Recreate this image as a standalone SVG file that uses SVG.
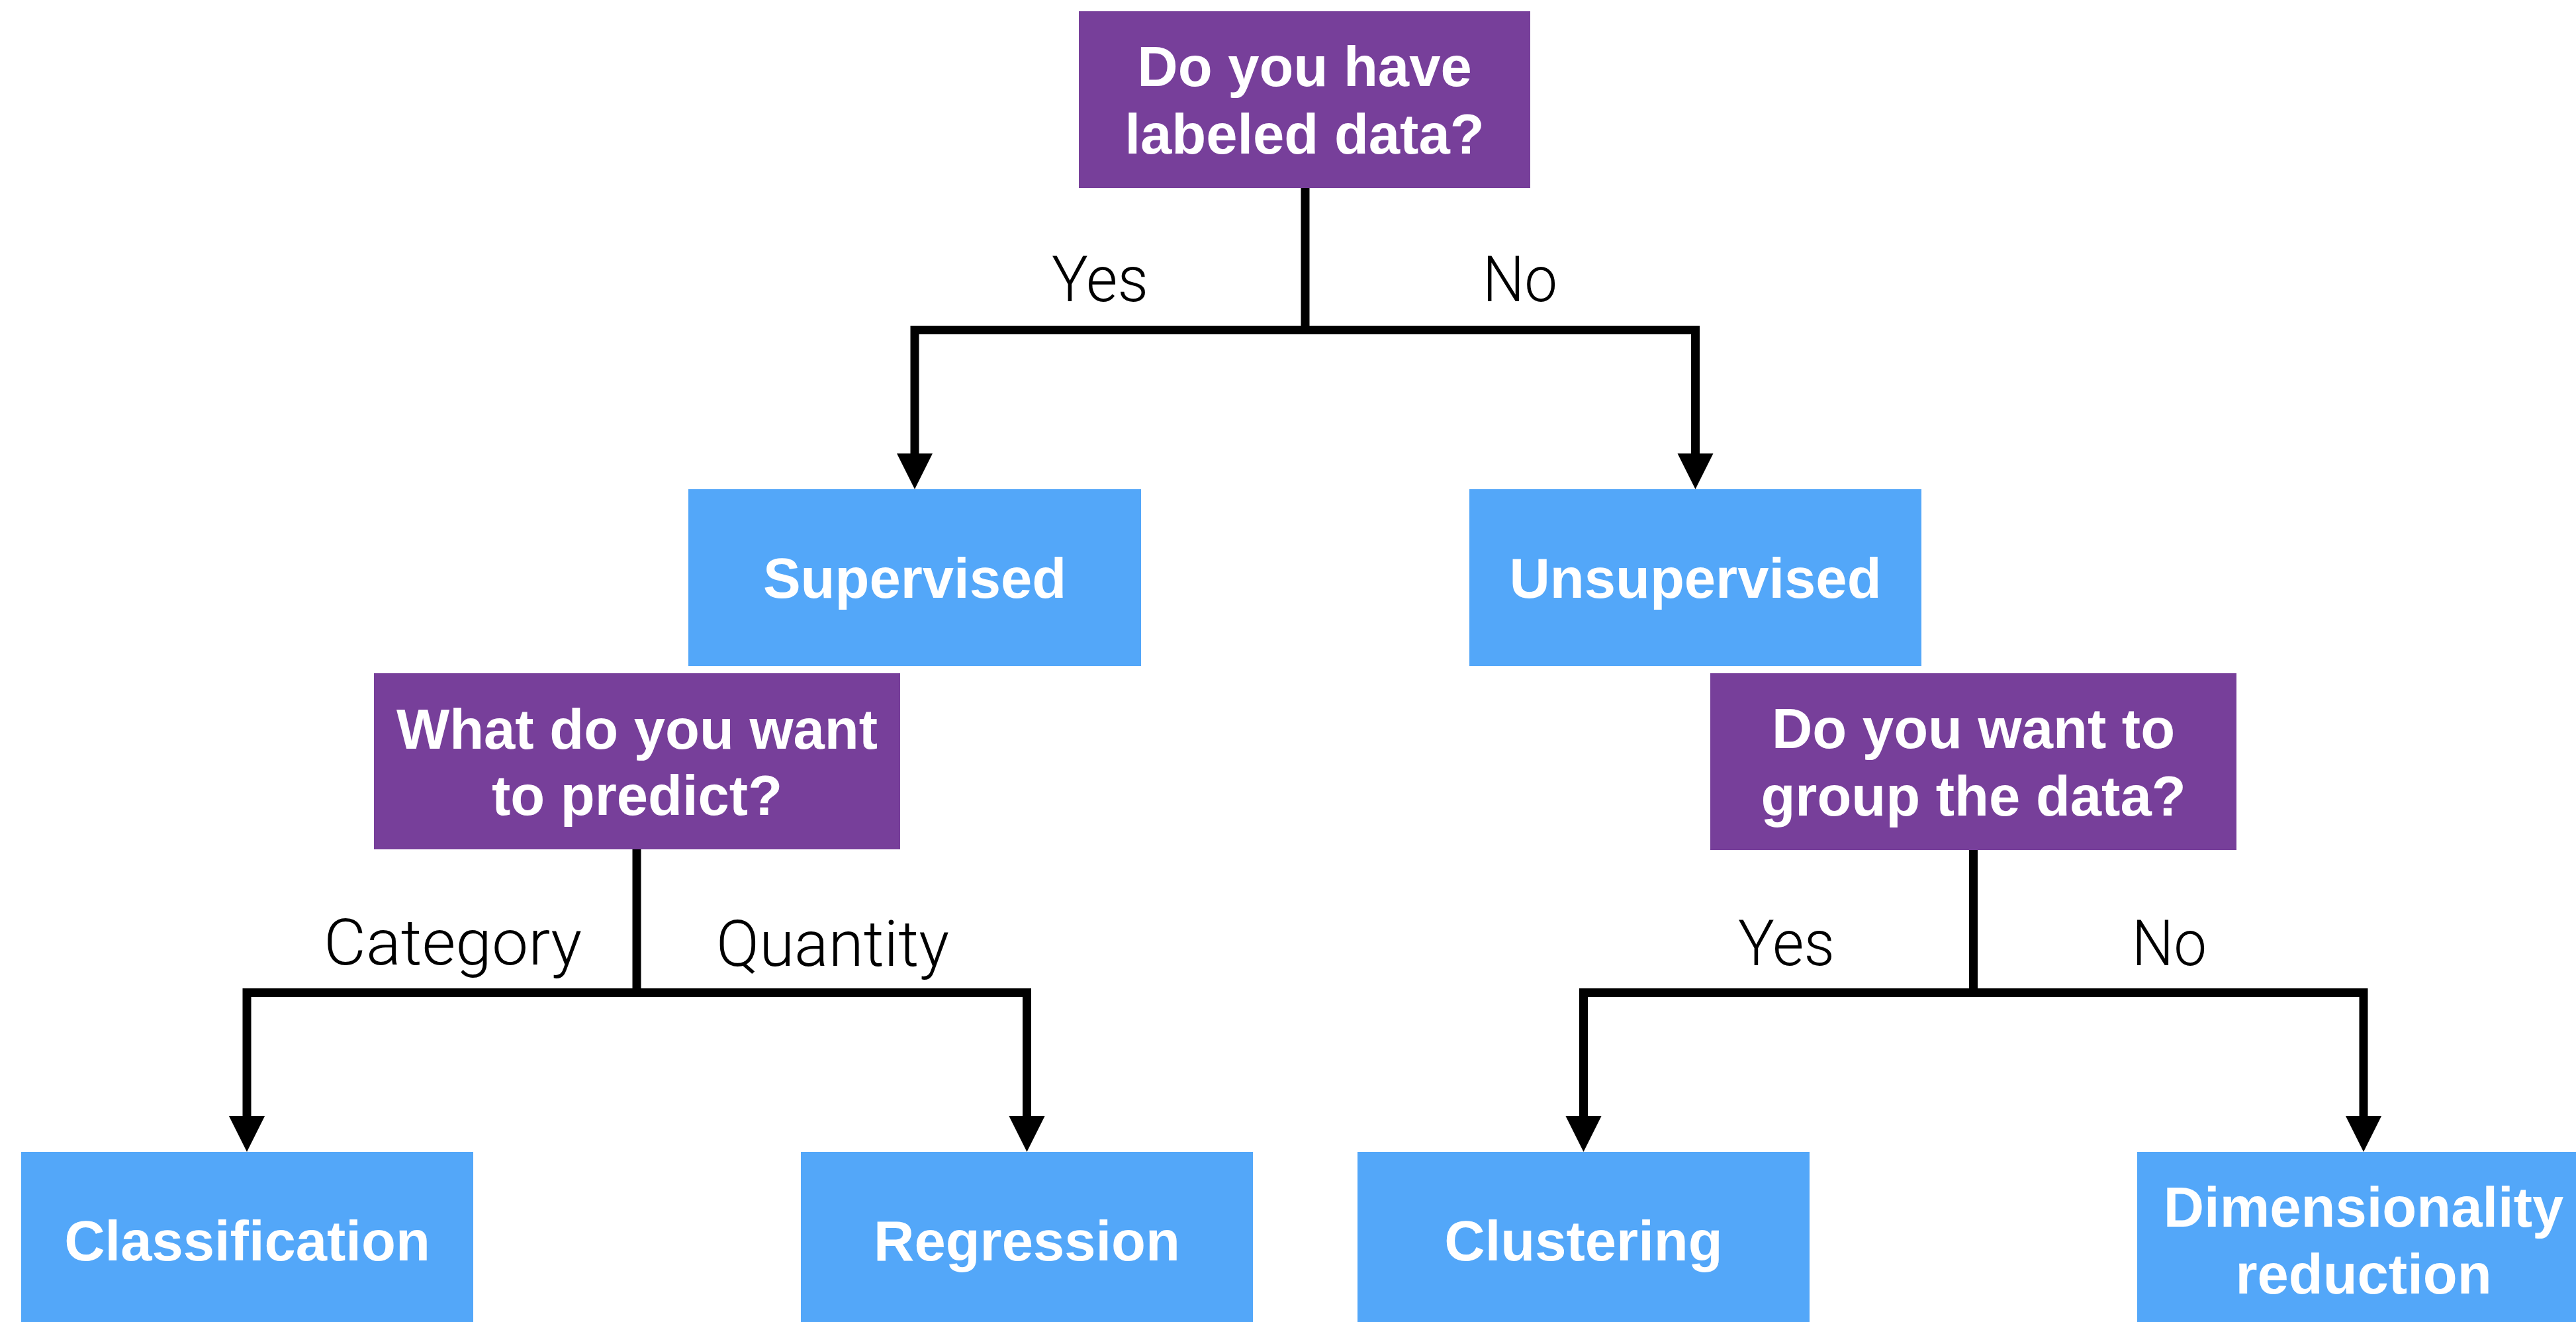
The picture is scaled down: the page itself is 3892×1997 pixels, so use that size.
<svg xmlns="http://www.w3.org/2000/svg" width="3892" height="1997" viewBox="0 0 3892 1997">
  <style>
    .question { fill: #773F9A; }
    .outcome { fill: #53A7F9; }
    .node-text { font-family: "Liberation Sans", Arial, Helvetica, sans-serif; font-weight: bold; font-size: 85px; fill: #FFFFFF; text-anchor: middle; }
    .edge-label { font-family: Roboto, "Liberation Sans", Arial, sans-serif; font-weight: 300; font-size: 96px; fill: #000000; }
    .wire { fill: none; stroke: #000000; stroke-width: 13; stroke-linejoin: miter; stroke-linecap: butt; }
    .head { fill: #000000; }
  </style>
  <rect width="3892" height="1997" fill="#FFFFFF"/>

  <!-- connectors: stems, branch bars, drops and arrowheads -->
  <g id="connectors">
    <path class="wire" d="M1972,284 V498.5"/>
    <path class="wire" d="M1382,688 V498.5 H2561.5 V688"/>
    <polygon class="head" points="1355,685 1409,685 1382,739"/>
    <polygon class="head" points="2534.5,685 2588.5,685 2561.5,739"/>

    <path class="wire" d="M962,1283 V1499.5"/>
    <path class="wire" d="M373,1688 V1499.5 H1551.5 V1688"/>
    <polygon class="head" points="346,1686 400,1686 373,1740"/>
    <polygon class="head" points="1524.5,1686 1578.5,1686 1551.5,1740"/>

    <path class="wire" d="M2981.5,1284 V1499.5"/>
    <path class="wire" d="M2392.5,1688 V1499.5 H3571 V1688"/>
    <polygon class="head" points="2365.5,1686 2419.5,1686 2392.5,1740"/>
    <polygon class="head" points="3544,1686 3598,1686 3571,1740"/>

    <text class="edge-label" x="1589" y="455" textLength="146" lengthAdjust="spacingAndGlyphs">Yes</text>
    <text class="edge-label" x="2240" y="455" textLength="113" lengthAdjust="spacingAndGlyphs">No</text>
    <text class="edge-label" x="489" y="1457" textLength="390" lengthAdjust="spacingAndGlyphs">Category</text>
    <text class="edge-label" x="1082" y="1459" textLength="352" lengthAdjust="spacingAndGlyphs">Quantity</text>
    <text class="edge-label" x="2626" y="1458" textLength="146" lengthAdjust="spacingAndGlyphs">Yes</text>
    <text class="edge-label" x="3221" y="1458" textLength="113" lengthAdjust="spacingAndGlyphs">No</text>
  </g>

  <g id="labeled-data">
    <rect class="question" x="1630" y="17" width="682" height="267"/>
    <text class="node-text" x="1971" y="130">Do you have</text>
    <text class="node-text" x="1971" y="232">labeled data?</text>
  </g>

  <g id="supervised">
    <rect class="outcome" x="1040" y="739" width="684" height="267"/>
    <text class="node-text" x="1382" y="903">Supervised</text>
  </g>

  <g id="unsupervised">
    <rect class="outcome" x="2220" y="739" width="683" height="267"/>
    <text class="node-text" x="2561.5" y="903">Unsupervised</text>
  </g>

  <g id="predict">
    <rect class="question" x="565" y="1017" width="795" height="266"/>
    <text class="node-text" x="962.5" y="1131">What do you want</text>
    <text class="node-text" x="962.5" y="1231">to predict?</text>
  </g>

  <g id="group-data">
    <rect class="question" x="2584" y="1017" width="795" height="267"/>
    <text class="node-text" x="2981.5" y="1130">Do you want to</text>
    <text class="node-text" x="2981.5" y="1232">group the data?</text>
  </g>

  <g id="classification">
    <rect class="outcome" x="32" y="1740" width="683" height="267"/>
    <text class="node-text" x="373.5" y="1904">Classification</text>
  </g>

  <g id="regression">
    <rect class="outcome" x="1210" y="1740" width="683" height="267"/>
    <text class="node-text" x="1551.5" y="1904">Regression</text>
  </g>

  <g id="clustering">
    <rect class="outcome" x="2051" y="1740" width="683" height="267"/>
    <text class="node-text" x="2392.5" y="1904">Clustering</text>
  </g>

  <g id="dimensionality-reduction">
    <rect class="outcome" x="3229" y="1740" width="684" height="267"/>
    <text class="node-text" x="3571" y="1853">Dimensionality</text>
    <text class="node-text" x="3571" y="1954">reduction</text>
  </g>
</svg>
